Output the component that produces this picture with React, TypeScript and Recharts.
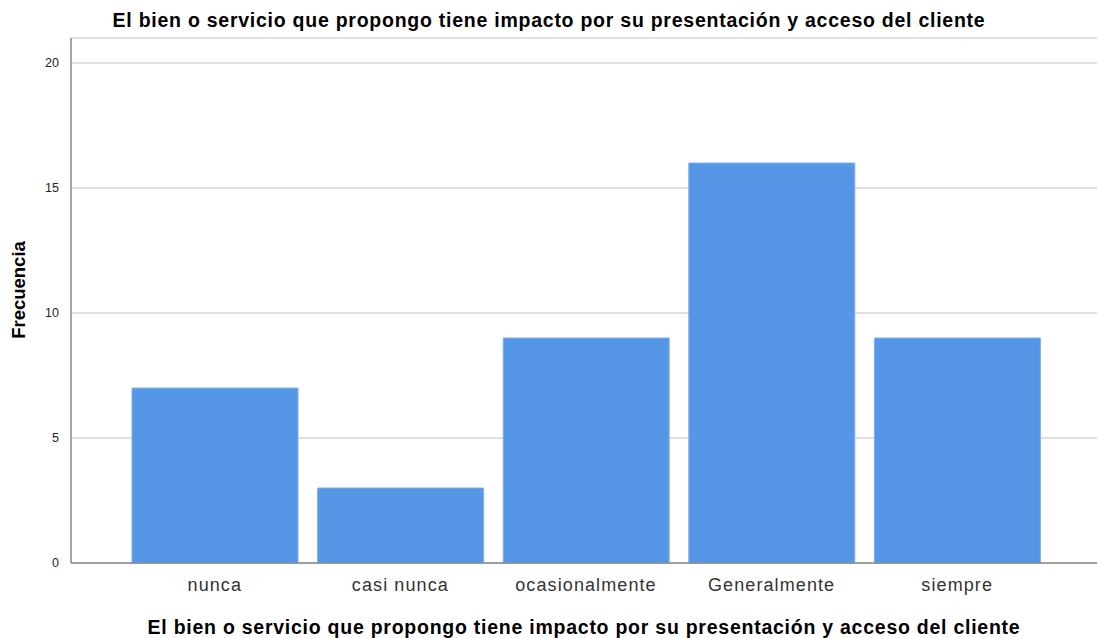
import React from 'react';
import { BarChart, Bar, XAxis, YAxis, CartesianGrid } from 'recharts';

const categories = ['nunca', 'casi nunca', 'ocasionalmente', 'Generalmente', 'siempre'];
const frequencies = [7, 3, 9, 16, 9];
const yTicks = [0, 5, 10, 15, 20];

const chartTitle = 'El bien o servicio que propongo tiene impacto por su presentación y acceso del cliente';
const yTitle = 'Frecuencia';

const data = categories.map((name, i) => ({ name, value: frequencies[i] }));

const font = '"Liberation Sans", Arial, sans-serif';

const App: React.FC = () => {
  return (
    <div style={{ position: 'absolute', left: 0, top: 0, width: 1098, height: 638, background: '#fff' }}>
      <BarChart
        width={1098}
        height={638}
        data={data}
        margin={{ top: 38, right: 1, bottom: 0, left: 0 }}
      >
        <CartesianGrid horizontal vertical={false} stroke="#d4d4d4" strokeWidth={1.5} />
        <XAxis
          dataKey="name"
          height={75}
          padding={{ left: 51, right: 47 }}
          tickLine={false}
          axisLine={{ stroke: '#888', strokeWidth: 1.5 }}
          tick={{ fill: '#333', fontSize: 18, fontFamily: font, letterSpacing: 1.1 }}
          tickMargin={9}
          label={{
            value: chartTitle,
            position: 'insideBottom',
            offset: 4,
            fill: '#000',
            fontSize: 19.5,
            fontWeight: 'bold',
            fontFamily: font,
            letterSpacing: 0.75,
          }}
        />
        <YAxis
          width={71}
          domain={[0, 21]}
          ticks={yTicks}
          tickLine={false}
          axisLine={{ stroke: '#888', strokeWidth: 1.5 }}
          tick={{ fill: '#222', fontSize: 12.5, fontFamily: font }}
          tickMargin={6}
        />
        <Bar dataKey="value" fill="#5596e6" stroke="#7fb0ec" strokeWidth={1} barSize={166} isAnimationActive={false} />
      </BarChart>
      <svg
        width={1098}
        height={638}
        style={{ position: 'absolute', left: 0, top: 0, pointerEvents: 'none' }}
      >
        <text
          x={549}
          y={27}
          textAnchor="middle"
          fontFamily={font}
          fontSize={19.5}
          fontWeight="bold"
          letterSpacing={0.75}
          fill="#000"
        >
          {chartTitle}
        </text>
        <text
          x={25}
          y={290}
          transform="rotate(-90 25 290)"
          textAnchor="middle"
          fontFamily={font}
          fontSize={18.5}
          fontWeight="bold"
          fill="#000"
        >
          {yTitle}
        </text>
      </svg>
    </div>
  );
};

export default App;
